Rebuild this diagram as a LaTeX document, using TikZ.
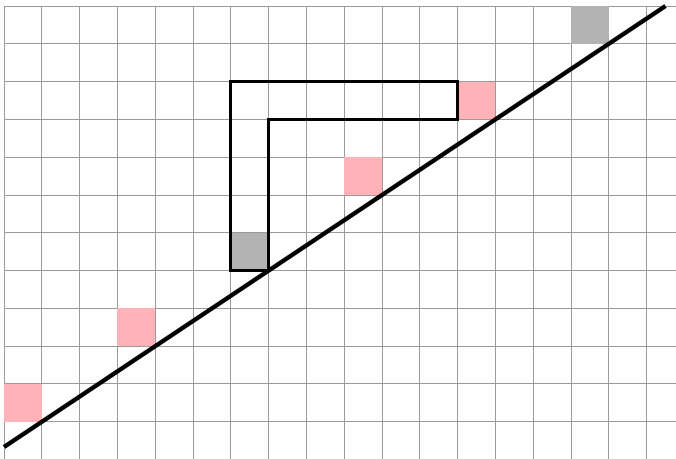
\documentclass[tikz,border=0pt]{standalone}
\definecolor{gridgray}{HTML}{9A9A9A}
\definecolor{cellpink}{HTML}{FFB3B8}
\definecolor{cellgray}{HTML}{B3B3B3}
\tikzset{
  gridline/.style={draw=gridgray, line width=0.75pt},
  pinkcell/.style={fill=cellpink},
  graycell/.style={fill=cellgray},
  bigline/.style={line width=3.2pt, line cap=butt},
  lshape/.style={line width=2.2pt, line join=miter}
}
\begin{document}
\begin{tikzpicture}
\useasboundingbox (-0.106,0.016) rectangle (17.778,12.159);
\begin{scope}
\clip (-0.106,0.016) rectangle (17.778,12.159);
\draw[gridline] (0,-1) grid (18.5,12);
\fill[pinkcell] (0,1) rectangle (1,2);
\fill[pinkcell] (3,3) rectangle (4,4);
\fill[graycell] (6,5) rectangle (7,6);
\fill[pinkcell] (9,7) rectangle (10,8);
\fill[pinkcell] (12,9) rectangle (13,10);
\fill[graycell] (15,11) rectangle (16,12);
\draw[lshape] (6,5) -- (6,10) -- (12,10) -- (12,9) -- (7,9) -- (7,5) -- cycle;
\coordinate (a) at (0,1/3);
\coordinate (b) at (17.5,12);
\draw[bigline] (a) -- (b);
\end{scope}
\end{tikzpicture}
\end{document}
